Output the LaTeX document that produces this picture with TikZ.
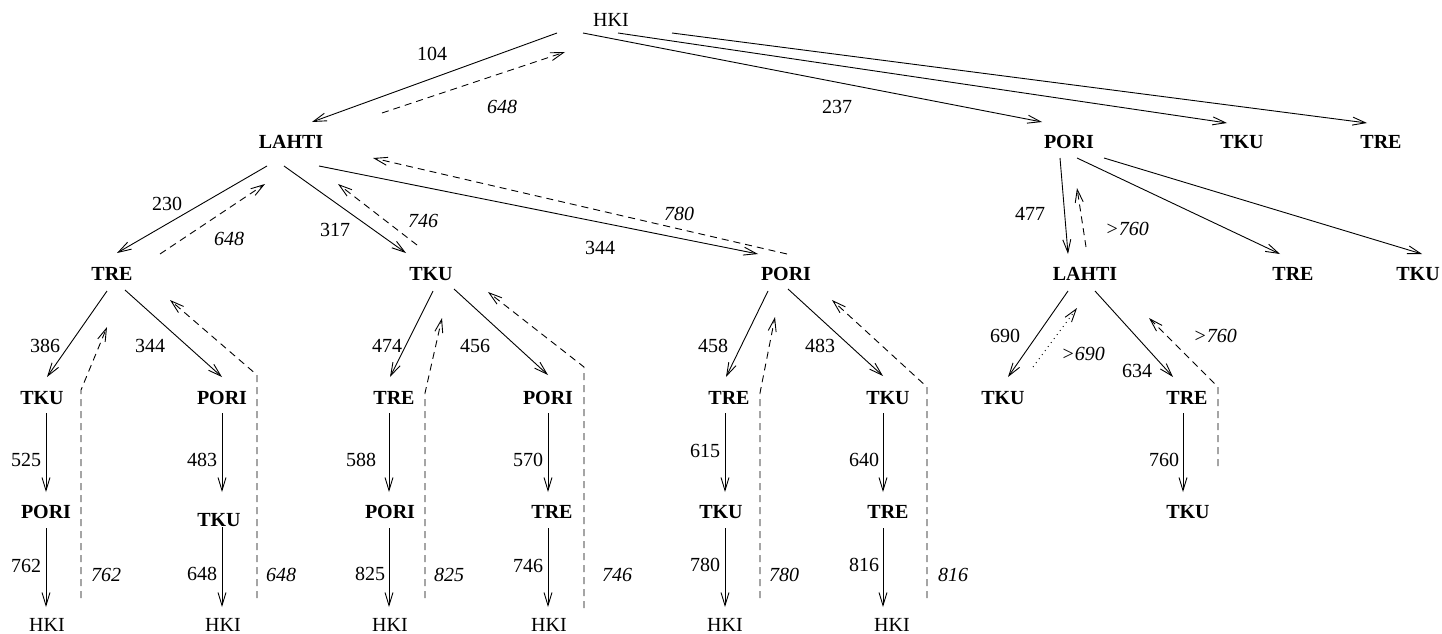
\documentclass[tikz,border=0pt]{standalone}
\usepackage{fontspec}
\setmainfont{Liberation Serif}
\usetikzlibrary{arrows.meta,calc}
\begin{document}
\begin{tikzpicture}[x=1pt,y=-1pt,
  txt/.style={inner sep=0pt, text height=13.1pt, text depth=0pt, font=\fontsize{20}{24}\selectfont},
  city/.style={txt, font=\fontsize{20}{24}\selectfont\bfseries},
  hk/.style={txt},
  cost/.style={txt},
  bound/.style={txt, font=\fontsize{20}{24}\selectfont\itshape},
  go/.style={-{Straight Barb[length=13pt,width=8pt]}, line width=0.9pt},
  back/.style={go, dash pattern=on 7pt off 5pt},
  probe/.style={go, dash pattern=on 1pt off 4pt}]
\useasboundingbox (0,0) rectangle (1442,634);

% ---- cities ----
\node[hk]   (hki)   at (611,19.5)  {HKI};
\node[city] (lahti) at (291,142)   {LAHTI};
\node[city] (pori)  at (1069,142)  {PORI};
\node[city] (tku)   at (1242,142)  {TKU};
\node[city] (tre)   at (1381,142)  {TRE};

\node[city] (ltre)   at (112,274)  {TRE};
\node[city] (ltku)   at (431,274)  {TKU};
\node[city] (lpori)  at (786,274)  {PORI};
\node[city] (plahti) at (1085,274) {LAHTI};
\node[city] (ptre)   at (1293,274) {TRE};
\node[city] (ptku)   at (1418,274) {TKU};

\node[city] (aT) at (42,398)   {TKU};
\node[city] (aP) at (222,398)  {PORI};
\node[city] (bT) at (394,398)  {TRE};
\node[city] (bP) at (548,398)  {PORI};
\node[city] (cT) at (729,398)  {TRE};
\node[city] (cK) at (888,398)  {TKU};
\node[city] (dK) at (1003,398) {TKU};
\node[city] (dT) at (1187,398) {TRE};

\node[city] (aTP) at (46,512)   {PORI};
\node[city] (aPK) at (219,520)  {TKU};
\node[city] (bTP) at (390,512)  {PORI};
\node[city] (bPT) at (552,512)  {TRE};
\node[city] (cTK) at (721,512)  {TKU};
\node[city] (cKT) at (888,512)  {TRE};
\node[city] (dTK) at (1188,512) {TKU};

\node[hk] (h1) at (47,625)  {HKI};
\node[hk] (h2) at (223,625) {HKI};
\node[hk] (h3) at (390,625) {HKI};
\node[hk] (h4) at (549,625) {HKI};
\node[hk] (h5) at (725,625) {HKI};
\node[hk] (h6) at (892,625) {HKI};

% ---- first level ----
\draw[go]   ($(hki)+(-54,13.5)$) -- ($(lahti)+(21,-20)$);
\draw[back] ($(lahti)+(91,-29)$) -- ($(hki)+(-46,32.5)$);
\draw[go]   ($(hki)+(-28,13.5)$) -- ($(pori)+(-27,-20)$);
\draw[go]   ($(hki)+(7,13.5)$)   -- ($(tku)+(-15,-19)$);
\draw[go]   ($(hki)+(61,13.5)$)  -- ($(tre)+(-14,-19)$);

% ---- from LAHTI ----
\draw[go]   ($(lahti)+(-24,24)$) -- ($(ltre)+(5,-21)$);
\draw[back] ($(ltre)+(48,-20)$)  -- ($(lahti)+(-26,42)$);
\draw[go]   ($(lahti)+(-7,24)$)  -- ($(ltku)+(-25,-21)$);
\draw[back] ($(ltku)+(-14,-29)$) -- ($(lahti)+(47,42)$);
\draw[go]   ($(lahti)+(28,24)$)  -- ($(lpori)+(-28,-20)$);
\draw[back] ($(lpori)+(1,-20)$)  -- ($(lahti)+(82,16)$);

% ---- from TRE ----
\draw[go]   ($(ltre)+(-5,17)$) -- ($(aT)+(5,-21)$);
\draw[back] ($(h1)+(34,-27)$) -- ($(aT)+(39,-8)$) -- ($(ltre)+(-5,53)$);
\draw[go]   ($(ltre)+(13,16)$) -- ($(aP)+(0,-21)$);
\draw[back] ($(h2)+(34,-27)$) -- ($(aP)+(35,-23)$) -- ($(ltre)+(58,26)$);

% ---- from TKU ----
\draw[go]   ($(ltku)+(2,17)$) -- ($(bT)+(-4,-21)$);
\draw[back] ($(h3)+(35,-27)$) -- ($(bT)+(31,-5)$) -- ($(ltku)+(11,44)$);
\draw[go]   ($(ltku)+(23,15)$) -- ($(bP)+(0,-23)$);
\draw[back] ($(h4)+(35,-17)$) -- ($(bP)+(36,-31)$) -- ($(ltku)+(57,18)$);

% ---- from PORI ----
\draw[go]   ($(lpori)+(-18,17)$) -- ($(cT)+(-3,-21)$);
\draw[back] ($(h5)+(35,-27)$) -- ($(cT)+(31,-5)$) -- ($(lpori)+(-11,43)$);
\draw[go]   ($(lpori)+(2,15)$) -- ($(cK)+(-5,-22)$);
\draw[back] ($(h6)+(35,-27)$) -- ($(cK)+(39,-11)$) -- ($(lpori)+(46,26)$);

% ---- straight descents ----
\draw[go] ($(aT)+(4,15)$)   -- ($(aTP)+(0,-20)$);
\draw[go] ($(aTP)+(0,16)$)  -- ($(h1)+(-1,-18)$);
\draw[go] ($(aP)+(0,15)$)   -- ($(aPK)+(3,-28)$);
\draw[go] ($(aPK)+(3,7)$)   -- ($(h2)+(-1,-18)$);
\draw[go] ($(bT)+(-5,15)$)  -- ($(bTP)+(-1,-20)$);
\draw[go] ($(bTP)+(-1,16)$) -- ($(h3)+(-1,-18)$);
\draw[go] ($(bP)+(0,15)$)   -- ($(bPT)+(-4,-20)$);
\draw[go] ($(bPT)+(-4,16)$) -- ($(h4)+(-1,-18)$);
\draw[go] ($(cT)+(-4,15)$)  -- ($(cTK)+(4,-20)$);
\draw[go] ($(cTK)+(4,16)$)  -- ($(h5)+(0,-18)$);
\draw[go] ($(cK)+(-5,15)$)  -- ($(cKT)+(-5,-20)$);
\draw[go] ($(cKT)+(-5,16)$) -- ($(h6)+(-9,-18)$);
\draw[go] ($(dT)+(-4,15)$)  -- ($(dTK)+(-5,-20)$);

% ---- right-hand branch ----
\draw[go]   ($(pori)+(-9,16)$) -- ($(plahti)+(-17,-20)$);
\draw[back] ($(plahti)+(1,-27)$) -- ($(pori)+(8,46)$);
\draw[go]   ($(pori)+(8,16)$)  -- ($(ptre)+(-13,-20)$);
\draw[go]   ($(pori)+(35,16)$) -- ($(ptku)+(4,-20)$);
\draw[go]   ($(plahti)+(-17,17)$) -- ($(dK)+(5,-21)$);
\draw[probe] ($(dK)+(30,-31)$) -- ($(plahti)+(-8,34)$);
\draw[go]   ($(plahti)+(10,17)$) -- ($(dT)+(-14,-21)$);
\draw[back] ($(dTK)+(30,-46)$) -- ($(dT)+(31,-11)$) -- ($(plahti)+(64,44)$);

% ---- costs ----
\node[cost]  (c104)  at (432,54)   {104};
\node[bound] (b648a) at (502,107)  {648};
\node[cost]  (c237)  at (837,107)  {237};
\node[cost]  (c230)  at (167,204)  {230};
\node[bound] (b648b) at (229,239)  {648};
\node[cost]  (c317)  at (335,230)  {317};
\node[bound] (b746a) at (423,221)  {746};
\node[cost]  (c344a) at (600,248)  {344};
\node[bound] (b780a) at (679,214)  {780};
\node[cost]  (c477)  at (1030,214) {477};
\node[bound] (b760a) at (1127,229) {>760};
\node[cost]  (c386)  at (45,346)   {386};
\node[cost]  (c344b) at (150,346)  {344};
\node[cost]  (c474)  at (387,346)  {474};
\node[cost]  (c456)  at (475,346)  {456};
\node[cost]  (c458)  at (713,346)  {458};
\node[cost]  (c483a) at (820,346)  {483};
\node[cost]  (c690)  at (1005,336) {690};
\node[bound] (b690)  at (1083,354) {>690};
\node[cost]  (c634)  at (1137,371) {634};
\node[bound] (b760b) at (1215,336) {>760};
\node[cost]  (c525)  at (26,460)   {525};
\node[cost]  (c483b) at (202,460)  {483};
\node[cost]  (c588)  at (361,460)  {588};
\node[cost]  (c570)  at (528,460)  {570};
\node[cost]  (c615)  at (705,451)  {615};
\node[cost]  (c640)  at (864,460)  {640};
\node[cost]  (c760)  at (1164,460) {760};
\node[cost]  (c762)  at (26,566)   {762};
\node[cost]  (c648)  at (202,574)  {648};
\node[cost]  (c825)  at (370,574)  {825};
\node[cost]  (c746)  at (528,566)  {746};
\node[cost]  (c780)  at (705,565)  {780};
\node[cost]  (c816)  at (864,565)  {816};
\node[bound] (b762)  at (106,575)  {762};
\node[bound] (b648c) at (281,575)  {648};
\node[bound] (b825)  at (449,575)  {825};
\node[bound] (b746b) at (617,575)  {746};
\node[bound] (b780b) at (784,575)  {780};
\node[bound] (b816)  at (953,575)  {816};
\end{tikzpicture}
\end{document}
